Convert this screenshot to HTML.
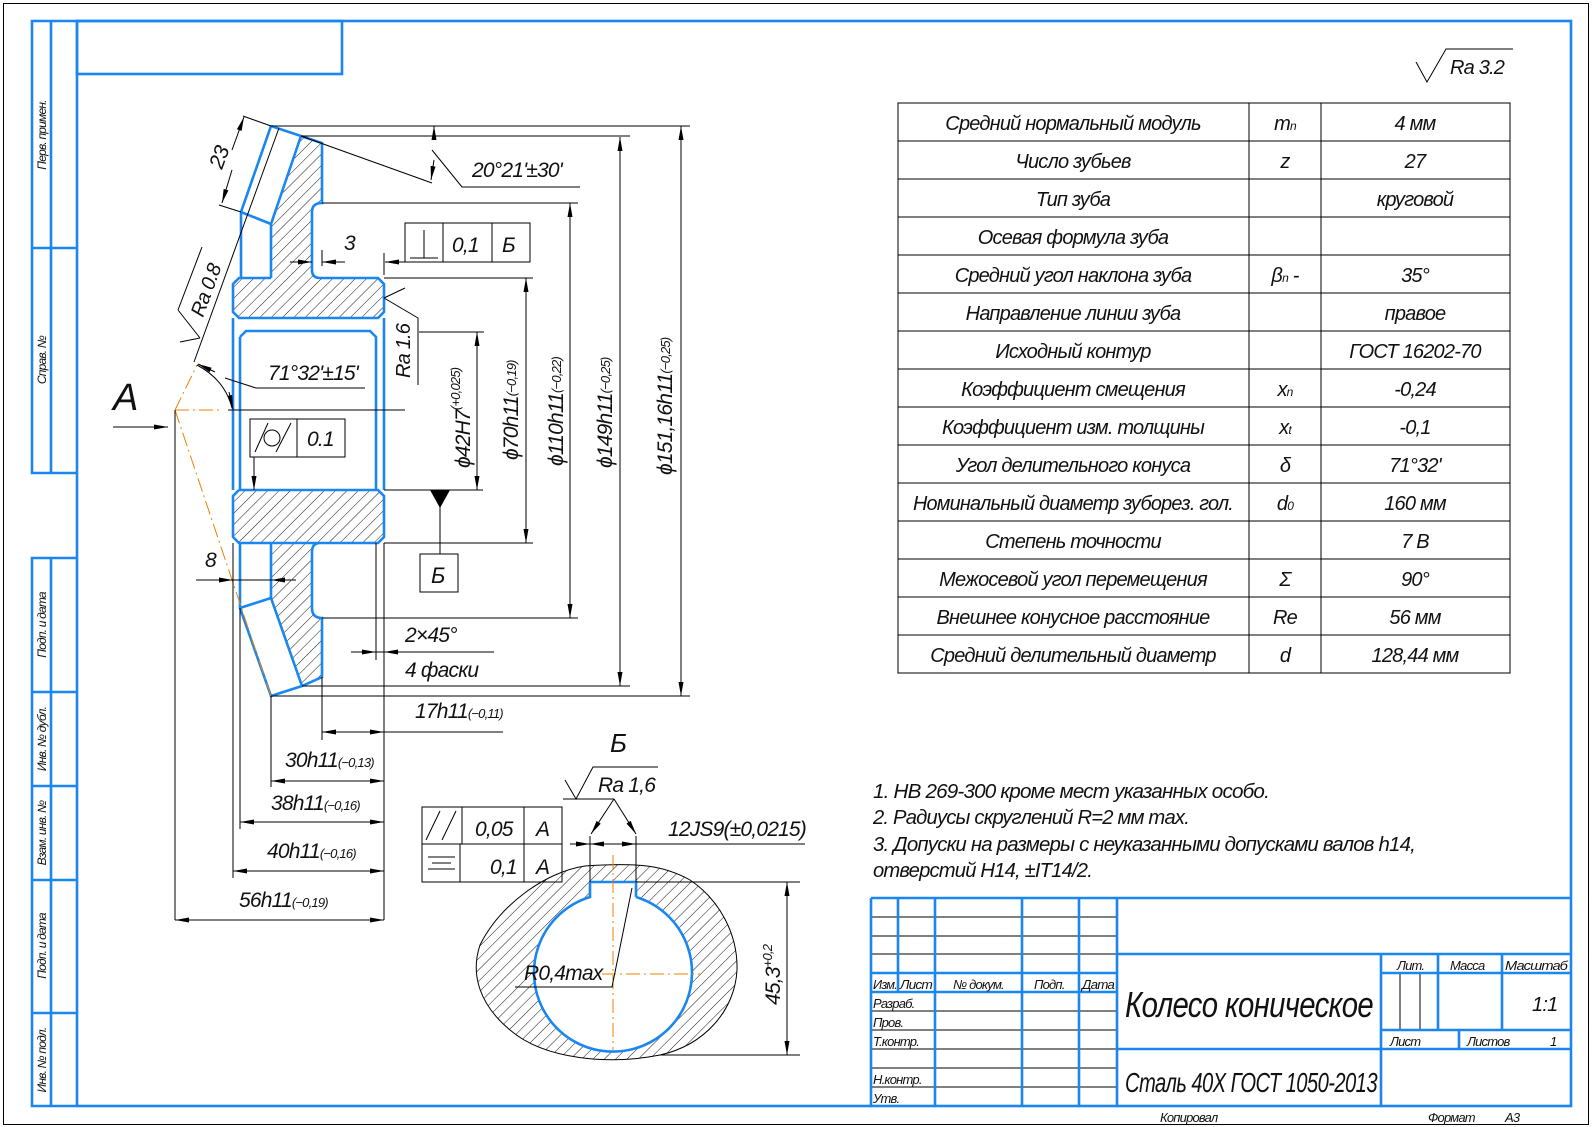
<!DOCTYPE html>
<html><head><meta charset="utf-8"><style>
html,body{margin:0;padding:0;background:#fff}
svg{display:block}
text{font-family:"Liberation Sans",sans-serif;font-style:italic;fill:#111;letter-spacing:-0.8px}
.b{stroke:#1a86f0;stroke-width:2.6;fill:none}
.t{stroke:#000;stroke-width:1;fill:none}
.o{stroke:#f08000;stroke-width:1;fill:none;stroke-dasharray:14 4 2 4}
.h{fill:url(#hat);stroke:none}
</style></head><body>
<svg width="1592" height="1127" viewBox="0 0 1592 1127" xmlns="http://www.w3.org/2000/svg">
<defs>
<pattern id="hat" patternUnits="userSpaceOnUse" width="8" height="8" patternTransform="rotate(45)">
<line x1="0" y1="0" x2="0" y2="8" stroke="#000" stroke-width="0.9"/></pattern>
<marker id="a" viewBox="0 0 14 6" refX="14" refY="3" markerWidth="14" markerHeight="6" markerUnits="userSpaceOnUse" orient="auto-start-reverse"><path d="M0,0.5 L14,3 L0,5.5z" fill="#000"/></marker>
</defs>

<rect x="3.5" y="3.5" width="1585" height="1121" fill="none" stroke="#000" stroke-width="1"/>
<rect x="77" y="21" width="1494" height="1085" class="b"/>
<rect x="77" y="21" width="265" height="53" class="b"/>
<path class="b" d="M77,21 H32 V473 H77 M51,21 V473 M32,248 H77 M77,558 H32 V1106 H77 M51,558 V1106 M32,692 H77 M32,786 H77 M32,880 H77 M32,1013 H77"/>
<g font-size="12">
<text transform="translate(46,135) rotate(-90)" text-anchor="middle">Перв. примен.</text>
<text transform="translate(46,360) rotate(-90)" text-anchor="middle">Справ. №</text>
<text transform="translate(46,625) rotate(-90)" text-anchor="middle">Подп. и дата</text>
<text transform="translate(46,739) rotate(-90)" text-anchor="middle">Инв. № дубл.</text>
<text transform="translate(46,833) rotate(-90)" text-anchor="middle">Взам. инв. №</text>
<text transform="translate(46,946) rotate(-90)" text-anchor="middle">Подп. и дата</text>
<text transform="translate(46,1060) rotate(-90)" text-anchor="middle">Инв. № подл.</text>
</g>

<path class="t" d="M1416,62 L1427,82 L1446,49 H1513"/>
<text x="1450" y="74" font-size="20">Ra 3.2</text>

<polygon class="h" points="301,136 322,143 322,203 312,208 312,272 318,278 271,278 271,224"/>
<polygon class="h" points="239,278 378,278 384,284 384,312 378,318 239,318 233,312 233,284"/>
<polygon class="h" points="239,490 378,490 384,496 384,537 378,543 239,543 233,537 233,496"/>
<polygon class="h" points="271,543 318,543 312,549 312,612 322,618 322,677 302,686 271,598"/>
<path class="b" d="M271,126 L322,143 V203 Q312,203 312,212 V270 Q312,278 320,278 H378 L384,284 V312 L378,318 H239 L233,312 V284 L239,278 H271 M241,278 V212 L271,126 M301,136 L271,224 L241,212 M271,224 V278"/>
<path class="b" d="M240,337 L246,331 H370 L376,337 V490 M240,337 V490 M233,318 V490 M384,318 V490"/>
<path class="b" d="M239,490 H378 L384,496 V537 L378,543 H239 L233,537 V496 L239,490 M240,543 V608 L271,696 L302,686 L322,677 V618 Q312,618 312,608 V552 Q312,543 320,543 M271,543 V598 L302,686 M240,608 L271,598"/>
<path class="t" d="M228,410 H405"/>
<path class="o" d="M175,410 H222 M175,410 L197,365 M175,410 L271,696"/>
<text x="113" y="410" font-size="38" font-style="normal">A</text>
<line x1="113" y1="427" x2="168" y2="427" class="t" marker-end="url(#a)"/>

<path class="t" d="M271,126 H690 M301,136 H630 M322,203 H578 M384,278 H533 M419,332 H484 M384,490 H483 M384,543 H533 M322,618 H578 M302,686 H630 M271,696 H690"/>
<line x1="681" y1="126" x2="681" y2="696" class="t" marker-start="url(#a)" marker-end="url(#a)"/>
<line x1="620" y1="137" x2="620" y2="686" class="t" marker-start="url(#a)" marker-end="url(#a)"/>
<line x1="570" y1="203" x2="570" y2="618" class="t" marker-start="url(#a)" marker-end="url(#a)"/>
<line x1="526" y1="278" x2="526" y2="543" class="t" marker-start="url(#a)" marker-end="url(#a)"/>
<line x1="477" y1="332" x2="477" y2="490" class="t" marker-start="url(#a)" marker-end="url(#a)"/>
<g font-size="21">
<text transform="translate(672,475) rotate(-90)">ϕ151,16h11<tspan font-size="13" dy="-2">(−0,25)</tspan></text>
<text transform="translate(612,468) rotate(-90)">ϕ149h11<tspan font-size="13" dy="-2">(−0,25)</tspan></text>
<text transform="translate(563,466) rotate(-90)">ϕ110h11<tspan font-size="13" dy="-2">(−0,22)</tspan></text>
<text transform="translate(518,460) rotate(-90)">ϕ70h11<tspan font-size="13" dy="-2">(−0,19)</tspan></text>
<text transform="translate(470,468) rotate(-90)">ϕ42H7<tspan font-size="13" dy="-10">(+0,025)</tspan></text>
</g>

<path class="t" d="M301,136 L432,183 M432,150 L462,187 H580"/>
<line x1="434" y1="140" x2="434" y2="126" class="t" marker-end="url(#a)"/>
<line x1="434" y1="160" x2="431" y2="180" class="t" marker-end="url(#a)"/>
<text x="472" y="177" font-size="21">20°21'±30'</text>

<path class="t" d="M271,126 L243,116 M241,212 L219,205"/>
<line x1="232" y1="150" x2="244" y2="117" class="t" marker-end="url(#a)"/>
<line x1="232" y1="170" x2="222" y2="203" class="t" marker-end="url(#a)"/>
<text transform="translate(222,170) rotate(-70)" font-size="21">23</text>

<path class="t" d="M279,128 L194,362 M178,310 L202,247 M178,310 L200,338 M180,342 L200,338"/>
<text transform="translate(203,318) rotate(-70)" font-size="20">Ra 0.8</text>
<path class="t" d="M197,365 Q225,380 232,408 M225,378 L256,388 H365"/>
<line x1="215" y1="372" x2="198" y2="364" class="t" marker-end="url(#a)"/>
<line x1="229" y1="392" x2="233" y2="409" class="t" marker-end="url(#a)"/>
<text x="268" y="380" font-size="21">71°32'±15'</text>

<line x1="290" y1="262" x2="312" y2="262" class="t" marker-end="url(#a)"/>
<line x1="345" y1="262" x2="322" y2="262" class="t" marker-end="url(#a)"/>
<line x1="322" y1="250" x2="322" y2="266" class="t"/>
<text x="344" y="250" font-size="21">3</text>
<path class="t" d="M384,253 V275"/>
<rect x="405" y="223" width="125" height="39" class="t"/>
<path class="t" d="M443,223 V262 M492,223 V262 M410,258 H438 M424,230 V258"/>
<line x1="405" y1="262" x2="385" y2="262" class="t" marker-end="url(#a)"/>
<text x="452" y="252" font-size="21">0,1</text>
<text x="502" y="252" font-size="21">Б</text>
<path class="t" d="M384,298 L418,318 V385 M384,298 L405,288"/>
<text transform="translate(410,378) rotate(-90)" font-size="20">Ra 1.6</text>

<rect x="250" y="419" width="95" height="38" class="t"/>
<path class="t" d="M297,419 V457 M255,452 L268,423 M276,452 L291,423"/>
<circle cx="272" cy="438" r="8" class="t"/>
<text x="307" y="446" font-size="21">0.1</text>
<line x1="254" y1="457" x2="254" y2="490" class="t" marker-end="url(#a)"/>

<path d="M430,490 H450 L440,508z" fill="#000"/>
<path class="t" d="M440,505 V554"/>
<rect x="420" y="554" width="38" height="38" class="t"/>
<text x="431" y="583" font-size="22">Б</text>

<path class="t" d="M196,580 H296"/>
<line x1="212" y1="580" x2="233" y2="580" class="t" marker-end="url(#a)"/>
<line x1="296" y1="580" x2="271" y2="580" class="t" marker-end="url(#a)"/>
<text x="205" y="567" font-size="21">8</text>

<path class="t" d="M376,543 V660 M351,652 H494"/>
<line x1="351" y1="652" x2="376" y2="652" class="t" marker-end="url(#a)"/>
<line x1="405" y1="652" x2="384" y2="652" class="t" marker-end="url(#a)"/>
<path class="t" d="M384,543 V920"/>
<text x="405" y="642" font-size="21">2×45°</text>
<text x="405" y="677" font-size="21">4 фаски</text>

<path class="t" d="M322,677 V740 M271,696 V787 M240,608 V829 M233,543 V878 M175,410 V920"/>
<line x1="322" y1="732" x2="384" y2="732" class="t" marker-start="url(#a)" marker-end="url(#a)"/>
<path class="t" d="M384,732 H503"/>
<text x="415" y="718" font-size="21">17h11<tspan font-size="13">(−0,11)</tspan></text>
<line x1="271" y1="781" x2="384" y2="781" class="t" marker-start="url(#a)" marker-end="url(#a)"/>
<text x="285" y="767" font-size="21">30h11<tspan font-size="13">(−0,13)</tspan></text>
<line x1="240" y1="822" x2="384" y2="822" class="t" marker-start="url(#a)" marker-end="url(#a)"/>
<text x="271" y="810" font-size="21">38h11<tspan font-size="13">(−0,16)</tspan></text>
<line x1="233" y1="871" x2="384" y2="871" class="t" marker-start="url(#a)" marker-end="url(#a)"/>
<text x="267" y="858" font-size="21">40h11<tspan font-size="13">(−0,16)</tspan></text>
<line x1="175" y1="920" x2="384" y2="920" class="t" marker-start="url(#a)" marker-end="url(#a)"/>
<text x="239" y="907" font-size="21">56h11<tspan font-size="13">(−0,19)</tspan></text>

<text x="610" y="752" font-size="26" font-style="normal">Б</text>
<path d="M585,866 C545,872 500,905 480,945 C470,975 480,1005 510,1030 C545,1060 610,1065 660,1055 C705,1045 735,1010 737,970 C738,935 720,900 690,880 C665,866 640,862 585,866 Z" fill="url(#hat)" stroke="#000" stroke-width="1"/>
<path d="M590,882 H636 V897 A79,79 0 1 1 590,897 Z" fill="#fff" stroke="none"/>
<path class="b" d="M590,882 H636 V897 M636,897 A79,79 0 1 1 590,897 V882"/>
<path class="o" d="M613,855 V1050 M602,974 H700"/>
<rect x="422" y="807" width="140" height="75" class="t"/>
<path class="t" d="M422,844 H562 M462,807 V844 M460,844 V882 M524,807 V882 M426,840 L440,811 M442,840 L456,811 M428,857 H455 M432,863 H451 M428,869 H455"/>
<text x="475" y="836" font-size="21">0,05</text>
<text x="536" y="836" font-size="21">A</text>
<text x="490" y="874" font-size="21">0,1</text>
<text x="536" y="874" font-size="21">A</text>
<path class="t" d="M565,780 L576,799 L593,767 H658 M563,799 H614"/>
<line x1="614" y1="799" x2="591" y2="834" class="t" marker-end="url(#a)"/>
<line x1="614" y1="799" x2="636" y2="834" class="t" marker-end="url(#a)"/>
<text x="598" y="792" font-size="21">Ra 1,6</text>
<path class="t" d="M590,836 V882 M636,836 V882 M570,844 H805"/>
<line x1="570" y1="844" x2="590" y2="844" class="t" marker-end="url(#a)"/>
<line x1="613" y1="844" x2="590" y2="844" class="t" marker-end="url(#a)"/>
<line x1="613" y1="844" x2="636" y2="844" class="t" marker-end="url(#a)"/>
<text x="668" y="836" font-size="21" textLength="138" lengthAdjust="spacingAndGlyphs">12JS9(±0,0215)</text>
<path class="t" d="M636,882 H800 M660,1055 H800"/>
<line x1="787" y1="882" x2="787" y2="1055" class="t" marker-start="url(#a)" marker-end="url(#a)"/>
<text transform="translate(780,1005) rotate(-90)" font-size="21">45,3<tspan font-size="13" dy="-8">+0,2</tspan></text>
<path class="t" d="M515,987 H612 L632,888"/>
<text x="524" y="980" font-size="21">R0,4max</text>

<g class="t">
<rect x="898" y="103" width="612" height="570"/>
<path d="M1249,103 V673 M1321,103 V673 M898,141 H1510 M898,179 H1510 M898,217 H1510 M898,255 H1510 M898,293 H1510 M898,331 H1510 M898,369 H1510 M898,407 H1510 M898,445 H1510 M898,483 H1510 M898,521 H1510 M898,559 H1510 M898,597 H1510 M898,635 H1510"/>
</g>
<g font-size="20" text-anchor="middle">
<text x="1073" y="130">Средний нормальный модуль</text><text x="1285" y="130">m<tspan font-size="12">n</tspan></text><text x="1415" y="130">4 мм</text>
<text x="1073" y="168">Число зубьев</text><text x="1285" y="168">z</text><text x="1415" y="168">27</text>
<text x="1073" y="206">Тип зуба</text><text x="1415" y="206">круговой</text>
<text x="1073" y="244">Осевая формула зуба</text>
<text x="1073" y="282">Средний угол наклона зуба</text><text x="1285" y="282">β<tspan font-size="12">n</tspan> -</text><text x="1415" y="282">35°</text>
<text x="1073" y="320">Направление линии зуба</text><text x="1415" y="320">правое</text>
<text x="1073" y="358">Исходный контур</text><text x="1415" y="358">ГОСТ 16202-70</text>
<text x="1073" y="396">Коэффициент смещения</text><text x="1285" y="396">x<tspan font-size="12">n</tspan></text><text x="1415" y="396">-0,24</text>
<text x="1073" y="434">Коэффициент изм. толщины</text><text x="1285" y="434">x<tspan font-size="12">t</tspan></text><text x="1415" y="434">-0,1</text>
<text x="1073" y="472">Угол делительного конуса</text><text x="1285" y="472">δ</text><text x="1415" y="472">71°32'</text>
<text x="1073" y="510" textLength="320" lengthAdjust="spacingAndGlyphs">Номинальный диаметр зуборез. гол.</text><text x="1285" y="510">d<tspan font-size="12">0</tspan></text><text x="1415" y="510">160 мм</text>
<text x="1073" y="548">Степень точности</text><text x="1415" y="548">7 В</text>
<text x="1073" y="586">Межосевой угол перемещения</text><text x="1285" y="586">Σ</text><text x="1415" y="586">90°</text>
<text x="1073" y="624">Внешнее конусное расстояние</text><text x="1285" y="624">Re</text><text x="1415" y="624">56 мм</text>
<text x="1073" y="662">Средний делительный диаметр</text><text x="1285" y="662">d</text><text x="1415" y="662">128,44 мм</text>
</g>

<g font-size="20">
<text x="873" y="798" textLength="396" lengthAdjust="spacingAndGlyphs">1. НВ 269-300 кроме мест указанных особо.</text>
<text x="873" y="824" textLength="316" lengthAdjust="spacingAndGlyphs">2. Радиусы скруглений R=2 мм max.</text>
<text x="873" y="851" textLength="542" lengthAdjust="spacingAndGlyphs">3. Допуски на размеры с неуказанными допусками валов h14,</text>
<text x="873" y="877" textLength="219" lengthAdjust="spacingAndGlyphs">отверстий H14, ±IT14/2.</text>
</g>

<path class="t" d="M871,917 H1117 M871,936 H1117 M871,954 H1117 M871,992 H1117 M871,1011 H1117 M871,1030 H1117 M871,1068 H1117 M871,1087 H1117 M871,1049 H1117 M1400,973 V1030 M1420,973 V1030"/>
<path class="b" d="M871,898 H1571 M871,898 V1106 M898,898 V992 M935,898 V1106 M1022,898 V1106 M1079,898 V1106 M1117,898 V1106 M871,973 H1117 M871,992 H1117 M1117,954 H1571 M1117,1049 H1571 M1381,954 V1106 M1381,973 H1571 M1381,1030 H1571 M1438,954 V1030 M1502,954 V1030 M1459,1030 V1049"/>
<g font-size="13">
<text x="873" y="989" textLength="24" lengthAdjust="spacingAndGlyphs">Изм.</text><text x="900" y="989" textLength="32" lengthAdjust="spacingAndGlyphs">Лист</text><text x="953" y="989">№ докум.</text><text x="1034" y="989">Подп.</text><text x="1082" y="989" textLength="32" lengthAdjust="spacingAndGlyphs">Дата</text>
<text x="873" y="1008">Разраб.</text><text x="873" y="1027">Пров.</text><text x="873" y="1046">Т.контр.</text>
<text x="873" y="1084">Н.контр.</text><text x="873" y="1103">Утв.</text>
<text x="1397" y="970">Лит.</text><text x="1450" y="970">Масса</text><text x="1505" y="970" textLength="62" lengthAdjust="spacingAndGlyphs">Масштаб</text>
<text x="1390" y="1046">Лист</text><text x="1467" y="1046">Листов</text><text x="1550" y="1046">1</text>
<text x="1160" y="1122">Копировал</text><text x="1428" y="1122">Формат</text><text x="1505" y="1122">А3</text>
</g>
<text x="1532" y="1011" font-size="20">1:1</text>
<text x="1125" y="1017" font-size="36" textLength="248" lengthAdjust="spacingAndGlyphs">Колесо коническое</text>
<text x="1125" y="1092" font-size="28" textLength="252" lengthAdjust="spacingAndGlyphs">Сталь 40Х ГОСТ 1050-2013</text>
</svg>
</body></html>
